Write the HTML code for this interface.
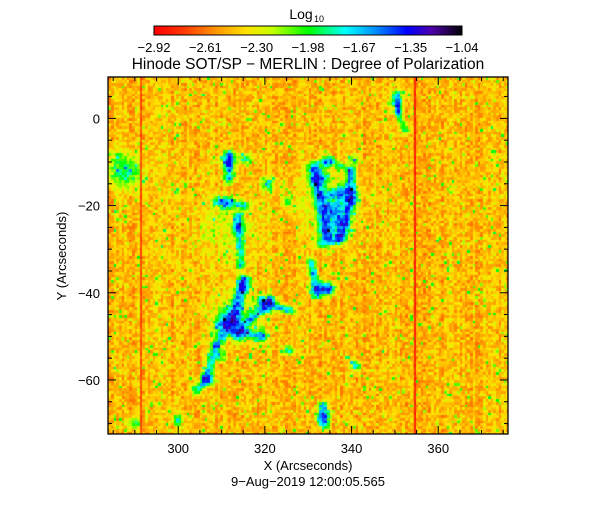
<!DOCTYPE html>
<html><head><meta charset="utf-8">
<style>
body{margin:0;background:#fff;}
#wrap{position:relative;width:616px;height:512px;background:#fff;font-family:"Liberation Sans",sans-serif;}
canvas{position:absolute;left:0;top:0;}
</style></head>
<body>
<div id="wrap">
<canvas id="hm" width="616" height="512"></canvas>
<svg id="ov" width="616" height="512" style="position:absolute;left:0;top:0"></svg>
</div>
<script>
// ---- data ----
const colorbarTicks = ["-2.92","-2.61","-2.30","-1.98","-1.67","-1.35","-1.04"];
const xTicks = [300,320,340,360];
const yTicks = [0,-20,-40,-60];
const featX = [350.3,311.5,315.4,320.5,310.8,313.8,325.1,332.0,335.7,338.9,334.3,337.3,340.3,334.3,315.0,312.0,313.8,310.1,320.5,318.9,332.0,334.3,309.6,306.6,325.3,340.8,333.2,289.6,299.7,286.6,288.4,311.0,313.0,335.0];
const featY = [4.1,-9.6,-9.2,-14.9,-19.5,-25.0,-18.8,-13.5,-21.1,-17.2,-26.3,-24.5,-9.6,-9.6,-38.2,-45.8,-49.0,-47.4,-42.8,-49.7,-38.9,-38.9,-54.3,-59.5,-53.1,-56.6,-68.5,-69.8,-69.2,-10.8,-13.0,-25.0,-45.0,-20.0];
const featAmp = [0.45,0.5,0.35,0.4,0.35,0.35,0.3,0.6,0.7,0.55,0.55,0.45,0.3,0.3,0.5,0.6,0.55,0.45,0.5,0.4,0.55,0.45,0.4,0.5,0.4,0.4,0.5,0.35,0.4,0.2,0.2,0.1,0.13,0.13];
const featR = [1.2,1.4,1.0,1.2,1.2,1.2,1.0,1.8,2.0,1.7,1.6,1.5,1.0,1.0,1.3,1.8,1.5,1.5,1.3,1.2,1.3,1.2,1.0,1.2,1.0,1.0,1.2,1.0,1.0,3.0,3.0,6.0,5.0,6.0];
const segX1 = [311.5,308.5,313.8,315.0,312.4,308.5,306.2,313.8,318.9,312.4,330.4,335.0,339.7,339.7,337.3,331.5,332.7,330.4,332.0,350.3,350.7,333.2];
const segY1 = [-8.5,-18.8,-22.2,-37.1,-46.3,-52.0,-60.0,-48.5,-41.7,-48.5,-10.8,-9.6,-12.0,-18.8,-27.5,-12.0,-17.6,-32.5,-39.0,5.7,1.4,-65.7];
const segX2 = [311.5,315.4,314.3,312.4,308.5,306.2,303.9,321.2,325.8,318.9,335.0,339.7,339.7,337.3,332.7,333.9,337.3,332.2,335.0,350.7,352.3,333.6];
const segY2 = [-13.7,-19.9,-33.7,-46.3,-52.0,-60.0,-62.3,-41.7,-44.0,-50.0,-9.6,-12.0,-18.8,-27.5,-28.6,-26.0,-17.0,-40.5,-39.0,1.4,-2.7,-70.3];
const segAmp = [0.6,0.45,0.45,0.6,0.5,0.45,0.45,0.5,0.5,0.4,0.3,0.3,0.5,0.55,0.45,0.55,0.5,0.45,0.55,0.5,0.35,0.6];
const segW = [0.8,0.7,0.7,0.9,0.8,0.7,0.7,0.8,0.7,0.7,0.7,0.6,0.8,0.8,0.8,0.9,0.8,0.7,0.7,0.6,0.6,0.7];
const redLinesX = [291.4,354.6];
const redLinesValue = [0.09,0.03];
const backgroundLevel = 0.25;

// ---- axes ----
const L=108,R=508,T=77,B=434;
const x0=283.8,x1=376.1,y0=-72.4,y1=9.5;
const sx=v=>L+(v-x0)/(x1-x0)*(R-L);
const sy=v=>B-(v-y0)/(y1-y0)*(B-T);

const stops=[[0,255,0,0],[0.1,255,60,0],[0.2,255,150,0],[0.3,255,228,0],[0.38,200,255,0],[0.5,0,255,0],[0.62,0,255,255],[0.72,0,140,255],[0.82,0,0,255],[0.9,80,0,170],[1,0,0,0]];
function cmap(v){v=Math.max(0,Math.min(1,v));for(let i=1;i<stops.length;i++){if(v<=stops[i][0]){const a=stops[i-1],b=stops[i],t=(v-a[0])/(b[0]-a[0]);return [0,1,2].map(k=>Math.round(a[k+1]+(b[k+1]-a[k+1])*t));}}return [0,0,0];}
function h(i,j){let n=(i*374761393+j*668265263)|0;n=(n^(n>>>13))*1274126177|0;n=n^(n>>>16);return ((n>>>0)%10000)/10000;}
function segDist(px,py,ax,ay,bx,by){const vx=bx-ax,vy=by-ay,l=vx*vx+vy*vy;let t=l?((px-ax)*vx+(py-ay)*vy)/l:0;t=Math.max(0,Math.min(1,t));const qx=ax+t*vx-px,qy=ay+t*vy-py;return qx*qx+qy*qy;}

const cv=document.getElementById('hm'),ctx=cv.getContext('2d');
const dx=0.6,dy=0.62;
const nI=Math.ceil((x1-x0)/dx),nJ=Math.ceil((y1-y0)/dy);
const grid=[];
for(let j=0;j<nJ;j++){grid.push([]);for(let i=0;i<nI;i++){
  let v=backgroundLevel+(h(i,j)-0.5)*0.14+(h(i,9999)-0.5)*0.06;
  const s=h(j+7,i+3); if(s>0.965) v+=0.2; else if(s>0.93) v+=0.08;
  const cxv=x0+(i+0.5)*dx, cyv=y1-(j+0.5)*dy;
  let f=0;
  for(let k=0;k<featX.length;k++){const ddx=cxv-featX[k],ddy=cyv-featY[k];f+=featAmp[k]*Math.exp(-(ddx*ddx+ddy*ddy)/(featR[k]*featR[k]*1.3));}
  for(let k=0;k<segX1.length;k++){f+=segAmp[k]*Math.exp(-segDist(cxv,cyv,segX1[k],segY1[k],segX2[k],segY2[k])/(segW[k]*segW[k]*1.5));}
  f*=0.75+0.5*h(i+101,j+57);
  v+=0.68*(1-Math.exp(-f*1.7));
  grid[j].push(v);
}}
const img=ctx.createImageData(616,512);
for(let py=T;py<B;py++){for(let px=L;px<R;px++){
  const xv=x0+(px-L)/(R-L)*(x1-x0), yv=y1-(py-T)/(B-T)*(y1-y0);
  const i=Math.min(nI-1,Math.floor((xv-x0)/dx)), j=Math.min(nJ-1,Math.floor((y1-yv)/dy));
  let v=grid[j][i];
  for(let k=0;k<redLinesX.length;k++){if(Math.abs(px-sx(redLinesX[k]))<1.0) v=redLinesValue[k]+h(j,3+k)*0.06;}
  const c=cmap(v),o=(py*616+px)*4;img.data[o]=c[0];img.data[o+1]=c[1];img.data[o+2]=c[2];img.data[o+3]=255;
}}
ctx.putImageData(img,0,0);
// colorbar
const cbL=154,cbR=462,cbT=26,cbB=35;
for(let px=cbL;px<cbR;px++){const c=cmap((px-cbL)/(cbR-cbL));ctx.fillStyle=`rgb(${c})`;ctx.fillRect(px,cbT,1,cbB-cbT);}

const NS='http://www.w3.org/2000/svg',svg=document.getElementById('ov');
function add(tag,attrs,txt){const e=document.createElementNS(NS,tag);for(const k in attrs)e.setAttribute(k,attrs[k]);if(txt!==undefined)e.textContent=txt;svg.appendChild(e);return e;}
let e;
e=add('rect',{x:L,y:T,width:R-L,height:B-T,fill:'none',stroke:'#000','stroke-width':1.3});


for(let v=285;v<=375;v+=5){const len=(v%20===0)?8:4;const X=sx(v);
  add('line',{x1:X,y1:B,x2:X,y2:B-len,stroke:'#000'});add('line',{x1:X,y1:T,x2:X,y2:T+len,stroke:'#000'});}
for(let v=-70;v<=5;v+=5){const len=(v%20===0)?8:4;const Y=sy(v);
  add('line',{x1:L,y1:Y,x2:L+len,y2:Y,stroke:'#000'});add('line',{x1:R,y1:Y,x2:R-len,y2:Y,stroke:'#000'});}
xTicks.forEach(v=>{e=add('text',{x:sx(v),y:453,'text-anchor':'middle','font-size':13},String(v));
  
  });
yTicks.forEach(v=>{e=add('text',{x:100,y:sy(v)+5,'text-anchor':'end','font-size':13},String(v).replace('-','\u2212'));
  
  });
e=add('rect',{x:cbL,y:cbT,width:cbR-cbL,height:cbB-cbT,fill:'none',stroke:'#000','stroke-width':1});


colorbarTicks.forEach((t,i)=>{e=add('text',{x:cbL+i*(cbR-cbL)/(colorbarTicks.length-1),y:52,'text-anchor':'middle','font-size':13},t.replace('-','\u2212'));
  
  });
e=add('text',{x:301,y:19,'text-anchor':'middle','font-size':14},'Log');


add('text',{x:319,y:22,'text-anchor':'middle','font-size':9},'10');
e=add('text',{x:308,y:69,'text-anchor':'middle','font-size':15.5},'Hinode SOT/SP \u2212 MERLIN : Degree of Polarization');


e=add('text',{x:308,y:470,'text-anchor':'middle','font-size':13},'X (Arcseconds)');


e=add('text',{x:308,y:486,'text-anchor':'middle','font-size':13},'9\u2212Aug\u22122019  12:00:05.565');


e=add('text',{x:0,y:0,'text-anchor':'middle','font-size':13,transform:'translate(66,256) rotate(-90)'},'Y (Arcseconds)');


</script>
</body></html>
